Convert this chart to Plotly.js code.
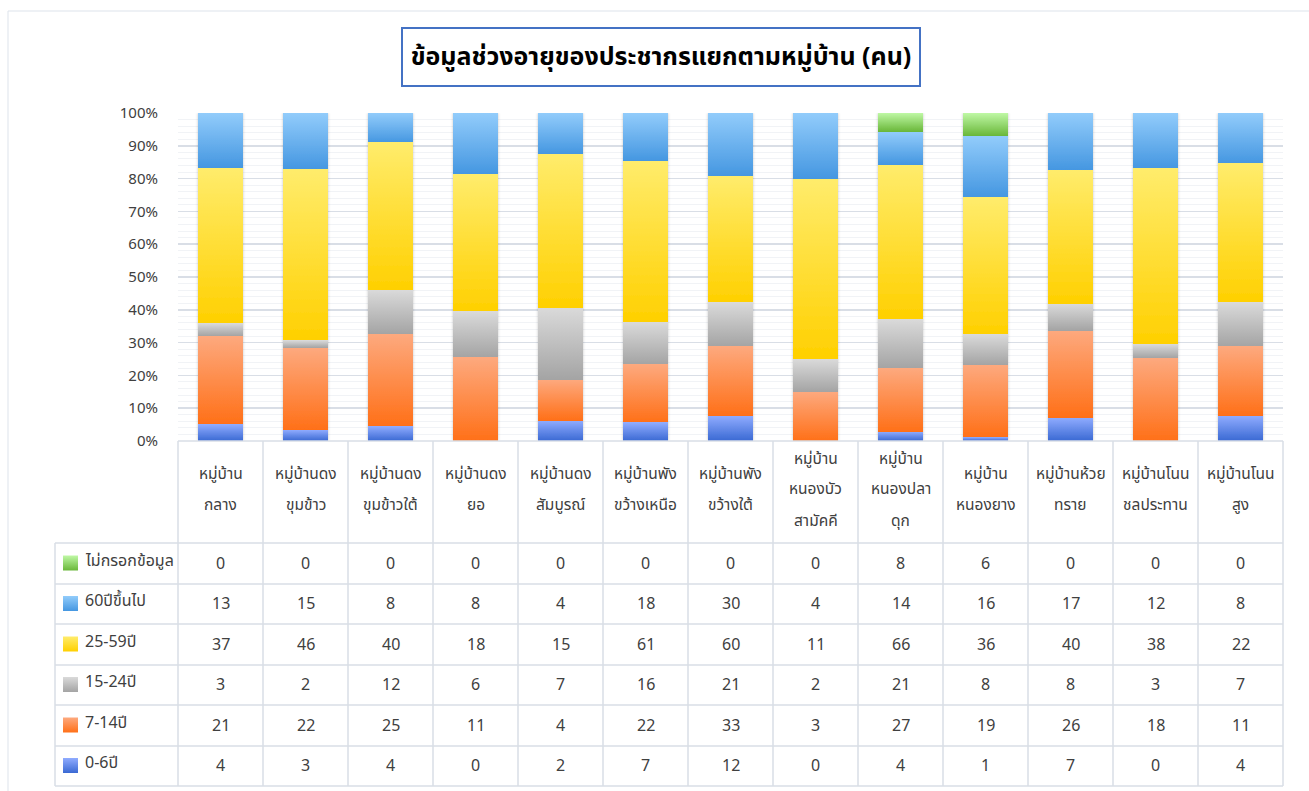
<!DOCTYPE html>
<html>
<head>
<meta charset="utf-8">
<script src="https://cdn.plot.ly/plotly-3.0.1.min.js"></script>
<style>
  html, body { margin: 0; padding: 0; background: #ffffff; }
  #chart { width: 1309px; height: 791px; }
</style>
</head>
<body>
<div id="chart"></div>
<script>
// ---------- DATA ----------
const villages = [
  "หมู่บ้านกลาง", "หมู่บ้านดงขุมข้าว", "หมู่บ้านดงขุมข้าวใต้", "หมู่บ้านดงยอ",
  "หมู่บ้านดงสัมบูรณ์", "หมู่บ้านพังขว้างเหนือ", "หมู่บ้านพังขว้างใต้",
  "หมู่บ้านหนองบัวสามัคคี", "หมู่บ้านหนองปลาดุก", "หมู่บ้านหนองยาง",
  "หมู่บ้านห้วยทราย", "หมู่บ้านโนนชลประทาน", "หมู่บ้านโนนสูง"
];
const villageLabels = [
  "หมู่บ้าน|กลาง", "หมู่บ้านดง|ขุมข้าว", "หมู่บ้านดง|ขุมข้าวใต้", "หมู่บ้านดง|ยอ",
  "หมู่บ้านดง|สัมบูรณ์", "หมู่บ้านพัง|ขว้างเหนือ", "หมู่บ้านพัง|ขว้างใต้",
  "หมู่บ้าน|หนองบัว|สามัคคี", "หมู่บ้าน|หนองปลา|ดุก", "หมู่บ้าน|หนองยาง",
  "หมู่บ้านห้วย|ทราย", "หมู่บ้านโนน|ชลประทาน", "หมู่บ้านโนน|สูง"
];
const age0to6   = [4, 3, 4, 0, 2, 7, 12, 0, 4, 1, 7, 0, 4];
const age7to14  = [21, 22, 25, 11, 4, 22, 33, 3, 27, 19, 26, 18, 11];
const age15to24 = [3, 2, 12, 6, 7, 16, 21, 2, 21, 8, 8, 3, 7];
const age25to59 = [37, 46, 40, 18, 15, 61, 60, 11, 66, 36, 40, 38, 22];
const age60plus = [13, 15, 8, 8, 4, 18, 30, 4, 14, 16, 17, 12, 8];
const noData    = [0, 0, 0, 0, 0, 0, 0, 0, 8, 6, 0, 0, 0];
const seriesNames = ["0-6ปี", "7-14ปี", "15-24ปี", "25-59ปี", "60ปีขึ้นไป", "ไม่กรอกข้อมูล"];
const seriesValues = [age0to6, age7to14, age15to24, age25to59, age60plus, noData];
const chartTitle = "ข้อมูลช่วงอายุของประชากรแยกตามหมู่บ้าน (คน)";

// ---------- STYLE ----------
const solidColors = ["#6189EC", "#FE8C4C", "#BFBFBF", "#FFDD35", "#6DB3F0", "#93D96F"];
const gradStops = [
  ["#90ACFF", "#3A69D3"],
  ["#FDA97E", "#FF7018"],
  ["#DADADA", "#A4A4A4"],
  ["#FFEC6C", "#FFD000"],
  ["#92CCFB", "#4597E1"],
  ["#BFF8A5", "#69B739"]
];
const W = 1309, H = 791;
const FONT = "Tahoma, 'Noto Sans Thai', 'Leelawadee UI', 'Noto Sans', sans-serif";
const TXT = "#404040";
const GRID = "#D9DEE6";
const px = v => v / W;
const py = v => 1 - v / H;

const plotLeft = 178, plotRight = 1283, plotTop = 113, plotBottom = 441;
const headerBottom = 543;
const rowLines = [543, 584, 624, 665, 705, 746, 786];
const colW = (plotRight - plotLeft) / villages.length;
const tableLeft = 55;

// ---------- TRACES ----------
const traces = seriesNames.map((name, i) => ({
  type: "bar",
  name: name,
  x: villages,
  y: seriesValues[i],
  marker: { color: solidColors[i], line: { width: 0 } },
  hoverinfo: "x+y+name",
  showlegend: false
}));

// ---------- SHAPES & ANNOTATIONS ----------
const shapes = [];
const annotations = [];
const line = (x0, y0, x1, y1, color, width) => shapes.push({
  type: "line", xref: "paper", yref: "paper",
  x0: px(x0), y0: py(y0), x1: px(x1), y1: py(y1),
  line: { color: color || GRID, width: width || 1.5 }
});

// outer chart border
line(8, 11, W, 11, "#DDE3EB", 1);
line(8, 11, 8, H, "#DDE3EB", 1);

// table grid
line(plotLeft, plotBottom, plotRight, plotBottom);
rowLines.forEach(y => line(tableLeft, y, plotRight, y));
line(tableLeft, headerBottom, tableLeft, rowLines[rowLines.length - 1]);
for (let k = 0; k <= villages.length; k++) {
  const x = plotLeft + k * colW;
  line(x, plotBottom, x, rowLines[rowLines.length - 1]);
}

// header labels (one annotation per line to get Thai line spacing)
const headerCenter = 490, lineGap = 31;
villageLabels.forEach((lab, j) => {
  const parts = lab.split("|");
  parts.forEach((p, li) => {
    const yc = headerCenter + (li - (parts.length - 1) / 2) * lineGap;
    annotations.push({
      xref: "x", yref: "paper", x: villages[j], y: py(yc),
      text: p, showarrow: false, xanchor: "center", yanchor: "middle",
      font: { family: FONT, size: 15.5, color: TXT }
    });
  });
});

// table rows: top row = last series
const legendShapeIdx = {};
for (let r = 0; r < seriesNames.length; r++) {
  const s = seriesNames.length - 1 - r;
  const yc = (rowLines[r] + rowLines[r + 1]) / 2;
  legendShapeIdx[shapes.length] = s;
  shapes.push({
    type: "rect", xref: "paper", yref: "paper",
    x0: px(63), x1: px(78), y0: py(yc - 8), y1: py(yc + 7),
    fillcolor: solidColors[s], line: { width: 0 }
  });
  annotations.push({
    xref: "paper", yref: "paper", x: px(83), y: py(yc - 3),
    text: seriesNames[s], showarrow: false, xanchor: "left", yanchor: "middle",
    font: { family: FONT, size: 16, color: TXT }
  });
  seriesValues[s].forEach((v, j) => {
    annotations.push({
      xref: "x", yref: "paper", x: villages[j], y: py(yc),
      text: String(v), showarrow: false, xanchor: "center", yanchor: "middle",
      font: { family: FONT, size: 16, color: TXT }
    });
  });
}

// title box
annotations.push({
  xref: "paper", yref: "paper", x: px(661), y: py(57),
  text: "<b>" + chartTitle + "</b>", showarrow: false,
  xanchor: "center", yanchor: "middle",
  width: 516, height: 56, borderpad: 0,
  bordercolor: "#4472C4", borderwidth: 2, bgcolor: "#ffffff",
  font: { family: FONT, size: 25, color: "#000000" }
});

const layout = {
  width: W, height: H,
  margin: { l: 0, r: 0, t: 0, b: 0, pad: 0 },
  paper_bgcolor: "#ffffff", plot_bgcolor: "#ffffff",
  barmode: "stack", barnorm: "percent", bargap: 0.47,
  showlegend: false,
  xaxis: {
    domain: [px(plotLeft), px(plotRight)],
    type: "category", showticklabels: false, showgrid: false,
    zeroline: false, showline: false, ticks: "", fixedrange: true
  },
  yaxis: {
    domain: [py(plotBottom), py(plotTop)],
    range: [0, 100], dtick: 10, tick0: 0, ticksuffix: "%",
    showgrid: true, gridcolor: GRID, gridwidth: 1.5,
    minor: { dtick: 2, showgrid: true, gridcolor: "#F1F3F6", gridwidth: 1, ticks: "" },
    zeroline: false, showline: false, ticks: "",
    ticklabelstandoff: 19,
    tickfont: { family: FONT, size: 15, color: TXT },
    fixedrange: true
  },
  shapes: shapes,
  annotations: annotations,
  font: { family: FONT, color: TXT }
};

const gd = document.getElementById("chart");
Plotly.newPlot(gd, traces, layout, { displayModeBar: false, staticPlot: true }).then(() => {
  const NS = "http://www.w3.org/2000/svg";
  const svg = gd.querySelector("svg.main-svg");
  let defs = svg.querySelector("defs");
  if (!defs) { defs = document.createElementNS(NS, "defs"); svg.insertBefore(defs, svg.firstChild); }
  gradStops.forEach((st, i) => {
    const g = document.createElementNS(NS, "linearGradient");
    g.setAttribute("id", "barGrad" + i);
    g.setAttribute("x1", "0"); g.setAttribute("y1", "0");
    g.setAttribute("x2", "0"); g.setAttribute("y2", "1");
    [[0, st[0]], [1, st[1]]].forEach(([o, c]) => {
      const s = document.createElementNS(NS, "stop");
      s.setAttribute("offset", String(o));
      s.setAttribute("stop-color", c);
      g.appendChild(s);
    });
    defs.appendChild(g);
  });
  const f = document.createElementNS(NS, "filter");
  f.setAttribute("id", "barShadow");
  f.setAttribute("x", "-20%"); f.setAttribute("y", "-5%");
  f.setAttribute("width", "140%"); f.setAttribute("height", "110%");
  const ds = document.createElementNS(NS, "feDropShadow");
  ds.setAttribute("dx", "0"); ds.setAttribute("dy", "0");
  ds.setAttribute("stdDeviation", "1.6");
  ds.setAttribute("flood-color", "#000000");
  ds.setAttribute("flood-opacity", "0.22");
  f.appendChild(ds);
  defs.appendChild(f);

  const traceGroups = gd.querySelectorAll(".barlayer .trace");
  traceGroups.forEach((tg, i) => {
    tg.querySelectorAll("path").forEach(p => { p.style.fill = "url(#barGrad" + i + ")"; });
  });
  const barlayer = gd.querySelector(".barlayer");
  if (barlayer) barlayer.setAttribute("filter", "url(#barShadow)");

  gd.querySelectorAll(".shapelayer path").forEach(p => {
    const idx = p.getAttribute("data-index");
    if (idx !== null && legendShapeIdx[idx] !== undefined) {
      p.style.fill = "url(#barGrad" + legendShapeIdx[idx] + ")";
    }
  });
});
</script>
</body>
</html>
